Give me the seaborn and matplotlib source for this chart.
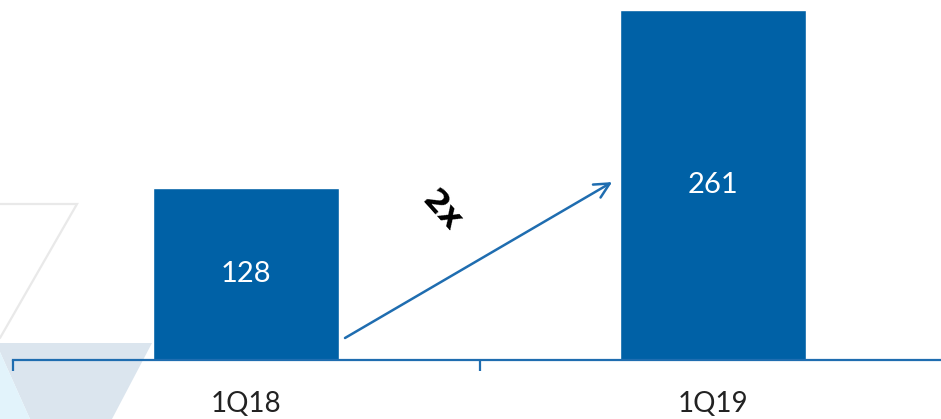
import matplotlib
matplotlib.use("Agg")
import matplotlib.pyplot as plt
from matplotlib.patches import Polygon
from matplotlib.ticker import FixedLocator
import seaborn as sns
import pandas as pd

quarters = ["1Q18", "1Q19"]
values = [128, 261]
growth_label = "2x"

BAR_BLUE = "#0061a6"
LINE_BLUE = "#1f6db0"

sns.set_theme(style="white")
plt.rcParams["font.family"] = ["Lato", "DejaVu Sans"]

W, H = 941, 419
fig = plt.figure(figsize=(W / 100, H / 100), dpi=100)

# decorative background shapes, in pixel space of the canvas
bg = fig.add_axes([0, 0, 1, 1], zorder=0)
bg.set_xlim(0, W)
bg.set_ylim(H, 0)
bg.axis("off")
bg.add_patch(Polygon([(0, 343), (152, 343), (112, 419), (30, 419), (0, 352)],
                     closed=True, facecolor="#dbe5ee", edgecolor="none"))
bg.add_patch(Polygon([(0, 352), (30, 419), (0, 419)],
                     closed=True, facecolor="#e2f3fb", edgecolor="none"))
bg.plot([0, 77, 0], [204, 204, 338], color="#e9e9e9", lw=1.6,
        solid_joinstyle="miter")

ax = fig.add_axes([12.5 / W, 59 / H, 934 / W, 360 / H], zorder=1)
ax.patch.set_alpha(0)

df = pd.DataFrame({"quarter": quarters, "value": values})
sns.barplot(data=df, x="quarter", y="value", color=BAR_BLUE, saturation=1,
            width=0.4, ax=ax)

ax.set_xlim(-0.5, 1.5)
ax.set_ylim(0, 268.3)

# value labels sit in the middle of each bar
for i, v in enumerate(values):
    ax.text(i, v / 2, str(v), ha="center", va="center", color="white",
            fontsize=21)

# growth arrow between the two quarters
ax.annotate("", xy=(0.784, 132.6), xytext=(0.212, 16.4),
            arrowprops=dict(arrowstyle="->,head_length=0.9,head_width=0.45",
                            color=LINE_BLUE, lw=1.8, shrinkA=0, shrinkB=0))
ax.text(0.418, 111, growth_label, rotation=-48, ha="center", va="center",
        fontsize=23, fontweight="bold", color="black",
        family=["DejaVu Sans"])

for side in ["top", "left", "right"]:
    ax.spines[side].set_visible(False)
ax.spines["bottom"].set_color(LINE_BLUE)
ax.spines["bottom"].set_linewidth(1.6)

ax.set_yticks([])
ax.set_xlabel("")
ax.set_ylabel("")
ax.xaxis.set_minor_locator(FixedLocator([-0.5, 0.5, 1.5]))
ax.tick_params(axis="x", which="major", length=0, pad=22, labelsize=20,
               labelcolor="#222222")
ax.tick_params(axis="x", which="minor", length=8, width=1.6,
               color=LINE_BLUE, direction="out", bottom=True)

fig.savefig("out.png", dpi=100)
